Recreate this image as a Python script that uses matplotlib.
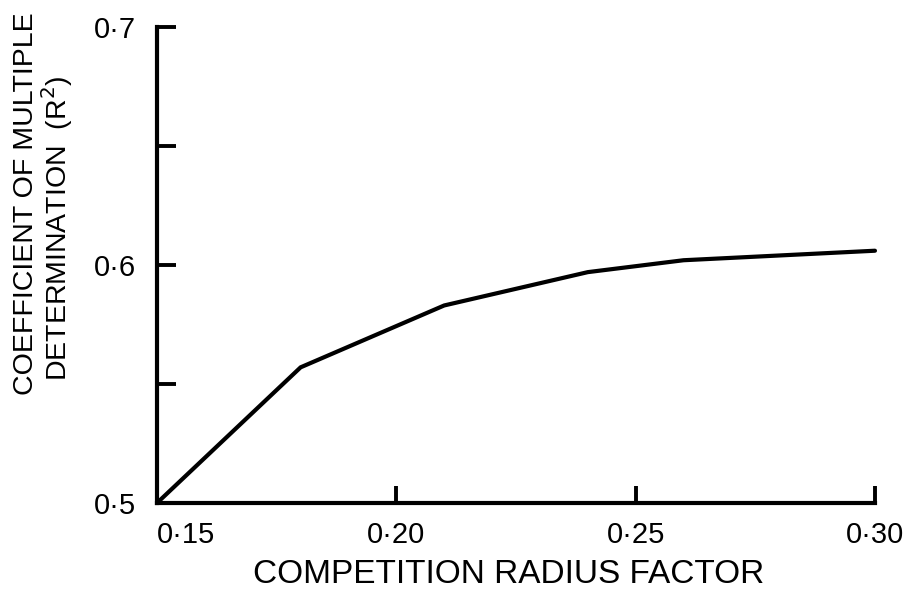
import matplotlib.pyplot as plt

# competition radius factor vs R^2
radius = [0.15, 0.18, 0.21, 0.24, 0.26, 0.30]
r2 = [0.500, 0.557, 0.583, 0.597, 0.602, 0.606]

xticks = [0.15, 0.20, 0.25, 0.30]
xticklabels = ['0\u00b715', '0\u00b720', '0\u00b725', '0\u00b730']
yticks = [0.5, 0.55, 0.6, 0.65, 0.7]
yticklabels = ['0\u00b75', '', '0\u00b76', '', '0\u00b77']

plt.rcParams['font.family'] = ['Liberation Sans', 'DejaVu Sans']

fig = plt.figure(figsize=(9.14, 5.90), dpi=100)
ax = fig.add_axes([0.1718, 0.1475, 0.7855, 0.8067])

ax.plot(radius, r2, color='black', lw=3.0, solid_joinstyle='miter',
        solid_capstyle='round', clip_on=False)

ax.set_xlim(0.15, 0.30)
ax.set_ylim(0.5, 0.7)

for side in ['top', 'right']:
  ax.spines[side].set_visible(False)
for side in ['left', 'bottom']:
  ax.spines[side].set_linewidth(3.0)
  ax.spines[side].set_capstyle('projecting')

ax.set_xticks(xticks)
ax.set_xticklabels(xticklabels)
ax.set_yticks(yticks)
ax.set_yticklabels(yticklabels)
ax.tick_params(axis='x', direction='in', length=12.5, width=2.8, pad=13,
               labelsize=21)
ax.tick_params(axis='y', direction='in', length=13.5, width=2.8, pad=15,
               labelsize=21)
ax.get_xticklabels()[0].set_horizontalalignment('left')

# axis titles placed directly so the spacing matches the original
fig.text(0.556, 0.026, 'COMPETITION RADIUS FACTOR', ha='center',
         va='center', fontsize=24)
fig.text(0.0284, 0.654, 'COEFFICIENT OF MULTIPLE', rotation=90,
         ha='center', va='center', fontsize=20.5)
fig.text(0.0624, 0.6136, 'DETERMINATION  (R$^2$)', rotation=90,
         ha='center', va='center', fontsize=20.5)

fig.savefig('out.png', dpi=100)
